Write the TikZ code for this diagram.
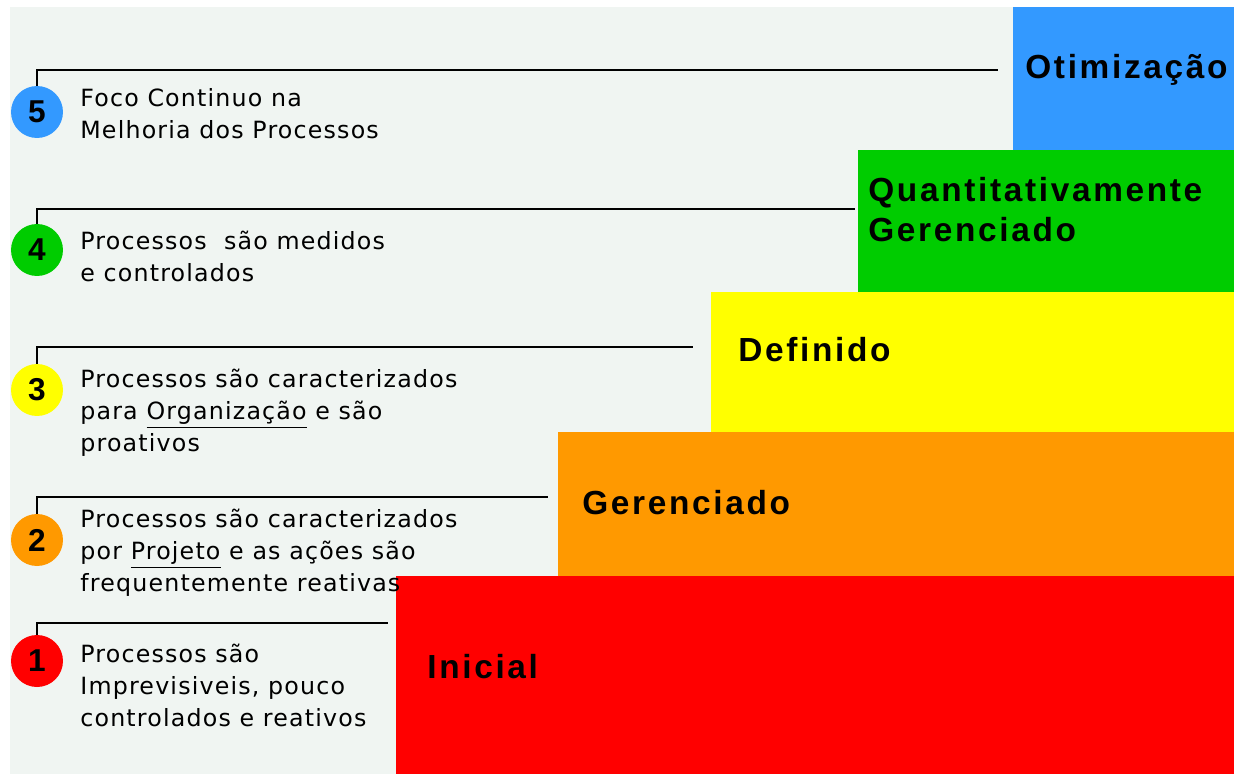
\documentclass[tikz,border=0pt]{standalone}
\usepackage{fontspec}
\newfontfamily\titlefont{Liberation Sans}[LetterSpace=8]
\newfontfamily\descfont{DejaVu Sans}[LetterSpace=5]
\newfontfamily\numfont{Liberation Sans}

\definecolor{panelbg}{HTML}{F0F5F2}
\definecolor{lvlblue}{HTML}{3399FF}
\definecolor{lvlgreen}{HTML}{00CC00}
\definecolor{lvlyellow}{HTML}{FFFF00}
\definecolor{lvlorange}{HTML}{FF9900}
\definecolor{lvlred}{HTML}{FF0000}

\tikzstyle{level}=[anchor=west, inner sep=0pt, align=left,
                   font=\titlefont\bfseries\fontsize{19}{22.8}\selectfont]
\tikzstyle{desc}=[anchor=west, inner sep=0pt, align=left,
                  font=\descfont\fontsize{13.5}{18.2}\selectfont]
\tikzstyle{badge}=[circle, minimum size=1.04cm, inner sep=0pt,
                   font=\numfont\bfseries\fontsize{18}{18}\selectfont]
\tikzstyle{link}=[line width=1.2pt, black]

\begin{document}
\begin{tikzpicture}[x=0.02cm, y=-0.02cm]

  %%%%%%%%%%%%%%%%%%%%%%%%%%%%%%
  % background
  \useasboundingbox (0, 0) rectangle (1234, 774);
  \fill[white] (0, 0) rectangle (1234, 774);
  \fill[panelbg] (10, 7) rectangle (1234, 774);

  %%%%%%%%%%%%%%%%%%%%%%%%%%%%%%
  % steps
  \fill[lvlblue] (1013, 7) rectangle (1234, 150);
  \fill[lvlgreen] (858, 150) rectangle (1234, 292);
  \fill[lvlyellow] (711, 292) rectangle (1234, 432);
  \fill[lvlorange] (558, 432) rectangle (1234, 576);
  \fill[lvlred] (396, 576) rectangle (1234, 774);

  \node (otim) at (1025, 70) [level] {Otimização};
  \node (quant) at (868, 210) [level] {Quantitativamente\\Gerenciado};
  \node (defin) at (738, 350) [level] {Definido};
  \node (geren) at (582, 503) [level] {Gerenciado};
  \node (inic) at (427, 667) [level] {Inicial};

  %%%%%%%%%%%%%%%%%%%%%%%%%%%%%%
  % badges
  \node (n5) at (37, 112) [badge, fill=lvlblue] {5};
  \node (n4) at (37, 250) [badge, fill=lvlgreen] {4};
  \node (n3) at (37, 390) [badge, fill=lvlyellow] {3};
  \node (n2) at (37, 540) [badge, fill=lvlorange] {2};
  \node (n1) at (37, 661) [badge, fill=lvlred] {1};

  %%%%%%%%%%%%%%%%%%%%%%%%%%%%%%
  % descriptions
  \node (d5) at (80, 114) [desc] {Foco Continuo na\\Melhoria dos Processos};
  \node (d4) at (80, 256) [desc] {Processos \ são medidos\\e controlados};
  \node (d3) at (80, 413) [desc] {Processos são caracterizados\\para \underline{Organização} e são\\proativos};
  \node (d2) at (80, 553) [desc] {Processos são caracterizados\\por \underline{Projeto} e as ações são\\frequentemente reativas};
  \node (d1) at (80, 685) [desc] {Processos são\\Imprevisiveis, pouco\\controlados e reativos};

  %%%%%%%%%%%%%%%%%%%%%%%%%%%%%%
  % links
  \coordinate (e5) at (998, 70);
  \coordinate (e4) at (855, 209);
  \coordinate (e3) at (693, 347);
  \coordinate (e2) at (548, 497);
  \coordinate (e1) at (388, 623);

  \draw [link] (n5.north) |- (e5);
  \draw [link] (n4.north) |- (e4);
  \draw [link] (n3.north) |- (e3);
  \draw [link] (n2.north) |- (e2);
  \draw [link] (n1.north) |- (e1);

\end{tikzpicture}
\end{document}
